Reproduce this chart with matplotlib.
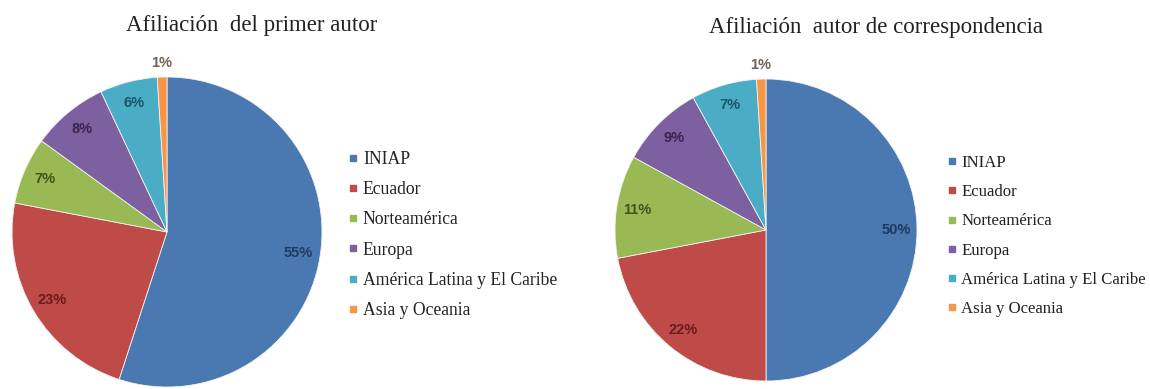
import numpy as np
import matplotlib.pyplot as plt
from matplotlib.lines import Line2D

# datos de los dos gráficos
categorias = ['INIAP', 'Ecuador', 'Norteamérica', 'Europa',
              'América Latina y El Caribe', 'Asia y Oceania']
primer_autor = [55, 23, 7, 8, 6, 1]
autor_corresp = [50, 22, 11, 9, 7, 1]
titulos = ['Afiliación  del primer autor', 'Afiliación  autor de correspondencia']

colores = ['#4A78B0', '#BE4B48', '#98B954', '#7D60A0', '#4BACC6', '#F79646']
colores_texto = ['#1F3A60', '#6B1B1A', '#3E5518', '#35244F', '#1D5566', '#6E6256']


def dibujar_pie(ax, valores):
    wedges, _, autotexts = ax.pie(
        valores, colors=colores, startangle=90, counterclock=False,
        autopct='%1.0f%%', pctdistance=0.86,
        wedgeprops=dict(edgecolor='#F2F2F2', linewidth=0.6),
        textprops=dict(family='Liberation Sans', fontweight='bold', fontsize=10.5))
    for t, c, v in zip(autotexts, colores_texto, valores):
        t.set_color(c)
        if v < 2:
            # etiqueta pequeña fuera del sector
            x, y = t.get_position()
            t.set_position((x * 1.09 / 0.86, y * 1.09 / 0.86))
    ax.set_xlim(-1, 1)
    ax.set_ylim(-1, 1)
    return wedges


fig = plt.figure(figsize=(11.5, 3.89), dpi=100)
W, H = 1150, 389

# posiciones en pixeles: centro y radio de cada pastel
pies = [(167, 232, 155), (766, 230, 151)]
leyendas = [(347, 235), (946, 236)]
tam_leyenda = [12.7, 12.1]
titulos_pos = [(252, 26), (876, 27)]

handles = [Line2D([0], [0], marker='s', linestyle='none', markersize=5,
                  markerfacecolor=c, markeredgecolor=c) for c in colores]

for (cx, cy, r), valores, (lx, ly), tam, (tx, ty), titulo in zip(
        pies, [primer_autor, autor_corresp], leyendas, tam_leyenda,
        titulos_pos, titulos):
    ax = fig.add_axes([(cx - r) / W, (H - cy - r) / H, 2 * r / W, 2 * r / H])
    dibujar_pie(ax, valores)
    fig.text(tx / W, 1 - ty / H, titulo, ha='center', va='center',
             family='Liberation Serif', fontsize=16.5, color='#222222')
    fig.legend(handles, categorias, loc='center left',
               bbox_to_anchor=(lx / W, 1 - ly / H), frameon=False,
               prop=dict(family='Liberation Serif', size=tam),
               handlelength=0.7, handletextpad=0.2,
               labelspacing=0.75 * 12.6 / tam,
               borderpad=0, borderaxespad=0, labelcolor='#222222')

fig.savefig('out.png', dpi=100, facecolor='white')
